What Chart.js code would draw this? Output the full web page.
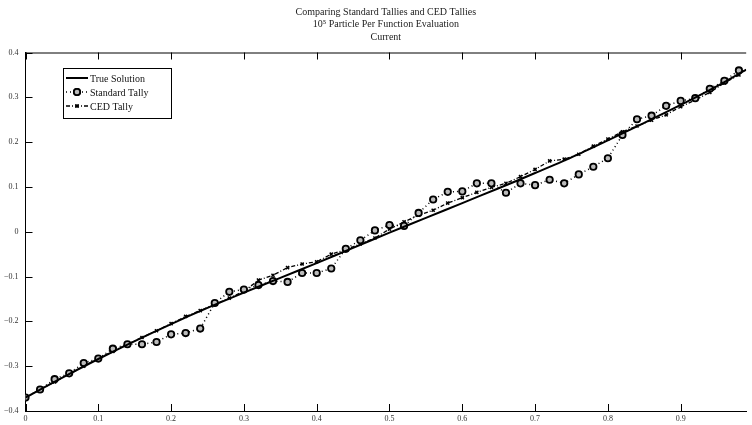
<!DOCTYPE html>
<html>
<head>
<meta charset="utf-8">
<script src="https://cdn.jsdelivr.net/npm/chart.js@4"></script>
<style>
  html, body { margin: 0; padding: 0; background: #fff; }
  #wrap { width: 752px; height: 425px; }
</style>
</head>
<body>
<div id="wrap"><canvas id="c" width="752" height="425"></canvas></div>
<script>
// sample positions of the tallies
var xs = [0, 0.02, 0.04, 0.06, 0.08, 0.10, 0.12, 0.14, 0.16, 0.18,
          0.20, 0.22, 0.24, 0.26, 0.28, 0.30, 0.32, 0.34, 0.36, 0.38,
          0.40, 0.42, 0.44, 0.46, 0.48, 0.50, 0.52, 0.54, 0.56, 0.58,
          0.60, 0.62, 0.64, 0.66, 0.68, 0.70, 0.72, 0.74, 0.76, 0.78,
          0.80, 0.82, 0.84, 0.86, 0.88, 0.90, 0.92, 0.94, 0.96, 0.98];

var standardTally = [-0.370, -0.352, -0.329, -0.316, -0.293, -0.283, -0.261, -0.251, -0.251, -0.246,
                     -0.229, -0.226, -0.216, -0.159, -0.134, -0.129, -0.119, -0.110, -0.112, -0.092,
                     -0.092, -0.082, -0.038, -0.019, 0.003, 0.015, 0.013, 0.042, 0.072, 0.089,
                     0.090, 0.108, 0.108, 0.087, 0.108, 0.104, 0.116, 0.108, 0.128, 0.145,
                     0.164, 0.216, 0.251, 0.259, 0.281, 0.292, 0.298, 0.319, 0.337, 0.360];

var cedTally = [-0.370, -0.352, -0.335, -0.318, -0.300, -0.283, -0.267, -0.251, -0.236, -0.221,
                -0.205, -0.189, -0.176, -0.162, -0.148, -0.133, -0.108, -0.097, -0.080, -0.072,
                -0.067, -0.050, -0.040, -0.027, -0.014, 0.006, 0.022, 0.037, 0.048, 0.064,
                0.076, 0.088, 0.099, 0.108, 0.123, 0.139, 0.158, 0.162, 0.173, 0.191,
                0.207, 0.223, 0.236, 0.249, 0.261, 0.279, 0.294, 0.311, 0.332, 0.350];

// true solution, sampled coarser
var trueX = [0, 0.05, 0.10, 0.15, 0.20, 0.25, 0.30, 0.35, 0.40, 0.45, 0.50,
             0.55, 0.60, 0.65, 0.70, 0.75, 0.80, 0.85, 0.90, 0.95, 0.99];
var trueY = [-0.370, -0.326, -0.284, -0.244, -0.206, -0.170, -0.136, -0.103, -0.070, -0.036, -0.002,
             0.031, 0.064, 0.097, 0.131, 0.166, 0.204, 0.243, 0.283, 0.325, 0.362];

var xTicks = [0, 0.1, 0.2, 0.3, 0.4, 0.5, 0.6, 0.7, 0.8, 0.9];
var yTicks = [-0.4, -0.3, -0.2, -0.1, 0, 0.1, 0.2, 0.3, 0.4];

var titleLines = ['Comparing Standard Tallies and CED Tallies',
                  '10\u2075 Particle Per Function Evaluation',
                  'Current'];

function pts(x, y) {
  return x.map(function (v, i) { return { x: v, y: y[i] }; });
}

function fmt(v) {
  var s = String(Math.round(v * 10) / 10);
  return s.replace('-', '\u2212');
}

var serif = '"Liberation Serif", "DejaVu Serif", serif';

// inward ticks and top frame line, matlab style
var frame = {
  id: 'frame',
  afterDraw: function (chart) {
    var c = chart.ctx, a = chart.chartArea;
    var sx = chart.scales.x, sy = chart.scales.y;
    c.save();
    c.strokeStyle = '#000';
    c.lineWidth = 1;
    c.beginPath();
    c.moveTo(a.left, a.top + 0.5);
    c.lineTo(a.right, a.top + 0.5);
    xTicks.forEach(function (t) {
      var px = Math.round(sx.getPixelForValue(t)) + 0.5;
      c.moveTo(px, a.bottom); c.lineTo(px, a.bottom - 7);
      c.moveTo(px, a.top); c.lineTo(px, a.top + 7);
    });
    yTicks.forEach(function (t) {
      var py = Math.round(sy.getPixelForValue(t)) + 0.5;
      c.moveTo(a.left, py); c.lineTo(a.left + 7, py);
    });
    c.stroke();
    c.restore();
  }
};

// boxed legend inside the plot
var boxLegend = {
  id: 'boxLegend',
  afterDraw: function (chart) {
    var c = chart.ctx;
    var x0 = 63, y0 = 68, w = 108, h = 50;
    c.save();
    c.fillStyle = '#fff';
    c.fillRect(x0, y0, w, h);
    c.strokeStyle = '#000';
    c.lineWidth = 1;
    c.strokeRect(x0 + 0.5, y0 + 0.5, w, h);
    c.font = '10px ' + serif;
    c.textBaseline = 'middle';
    chart.data.datasets.forEach(function (ds, i) {
      var ly = y0 + 10 + i * 14;
      c.strokeStyle = '#000';
      c.lineWidth = ds.borderWidth;
      c.setLineDash(ds.borderDash || []);
      c.beginPath();
      c.moveTo(x0 + 3, ly);
      c.lineTo(x0 + 25, ly);
      c.stroke();
      c.setLineDash([]);
      if (ds.pointRadius > 0) {
        Chart.helpers.drawPoint(c, {
          pointStyle: ds.pointStyle,
          radius: ds.pointRadius,
          borderWidth: ds.pointBorderWidth
        }, x0 + 14, ly);
        c.fillStyle = ds.pointBackgroundColor;
        c.strokeStyle = '#000';
        c.lineWidth = ds.pointBorderWidth;
        c.fill();
        c.stroke();
      }
      c.fillStyle = '#111';
      c.fillText(ds.label, x0 + 27, ly + 1);
    });
    c.restore();
  }
};

new Chart(document.getElementById('c').getContext('2d'), {
  type: 'line',
  data: {
    datasets: [
      {
        label: 'True Solution',
        data: pts(trueX, trueY),
        borderColor: '#000',
        borderWidth: 2,
        pointRadius: 0,
        tension: 0.3
      },
      {
        label: 'Standard Tally',
        data: pts(xs, standardTally),
        borderColor: '#000',
        borderWidth: 1.5,
        borderDash: [1, 3],
        pointStyle: 'circle',
        pointRadius: 3.2,
        pointBorderWidth: 1.8,
        pointBorderColor: '#000',
        pointBackgroundColor: '#bbb'
      },
      {
        label: 'CED Tally',
        data: pts(xs, cedTally),
        borderColor: '#000',
        borderWidth: 1.3,
        borderDash: [4, 2, 1, 2],
        pointStyle: 'crossRot',
        pointRadius: 2.2,
        pointBorderWidth: 1.5,
        pointBorderColor: '#000',
        pointBackgroundColor: '#000'
      }
    ]
  },
  options: {
    responsive: false,
    animation: false,
    layout: { padding: 0 },
    plugins: {
      legend: { display: false },
      tooltip: { enabled: false },
      title: {
        display: true,
        fullSize: false,
        text: titleLines,
        color: '#222',
        font: { family: serif, size: 10, weight: 'normal', lineHeight: 1.25 },
        padding: { top: 6, bottom: 9 }
      }
    },
    scales: {
      x: {
        type: 'linear',
        min: 0,
        max: 0.99,
        afterBuildTicks: function (s) { s.ticks = xTicks.map(function (v) { return { value: v }; }); },
        afterFit: function (s) { s.height = 14; },
        grid: { display: false, drawTicks: false },
        border: { display: true, color: '#000', width: 1 },
        ticks: {
          color: '#333',
          padding: 3,
          maxRotation: 0,
          font: { family: serif, size: 8 },
          callback: function (v) { return fmt(v); }
        }
      },
      y: {
        min: -0.4,
        max: 0.4,
        afterBuildTicks: function (s) { s.ticks = yTicks.map(function (v) { return { value: v }; }); },
        afterFit: function (s) { s.width = 25.5; },
        grid: { display: false, drawTicks: false },
        border: { display: true, color: '#000', width: 1 },
        ticks: {
          color: '#333',
          padding: 7,
          font: { family: serif, size: 8 },
          callback: function (v) { return fmt(v); }
        }
      }
    }
  },
  plugins: [frame, boxLegend]
});
</script>
</body>
</html>
